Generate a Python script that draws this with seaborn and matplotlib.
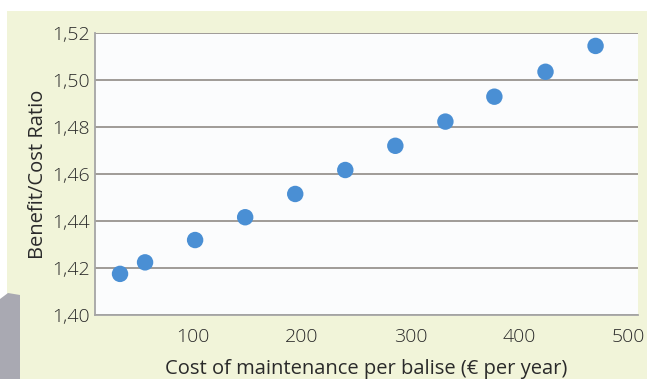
import matplotlib
matplotlib.use("Agg")
import matplotlib.pyplot as plt
import seaborn as sns
import pandas as pd
from matplotlib.patches import Polygon, Rectangle

# datos
cost = [33, 56, 102, 148, 194, 240, 286, 332, 377, 424, 470]
ratio = [1.4175, 1.4224, 1.4319, 1.4416, 1.4515, 1.4617, 1.4720, 1.4823, 1.4929, 1.5035, 1.5145]

x_ticks = [100, 200, 300, 400, 500]
y_ticks = [1.40, 1.42, 1.44, 1.46, 1.48, 1.50, 1.52]
y_tick_labels = ["1,40", "1,42", "1,44", "1,46", "1,48", "1,50", "1,52"]

df = pd.DataFrame({"cost": cost, "ratio": ratio})

sns.set_theme(style="white")
plt.rcParams["font.family"] = ["Open Sans", "DejaVu Sans"]
plt.rcParams["font.weight"] = "light"

fig = plt.figure(figsize=(6.47, 3.79), dpi=100)
fig.patch.set_facecolor("white")

# fondo amarillo claro del recuadro
fig.patches.append(Rectangle((7 / 647, 0), 1, 1 - 11 / 379, transform=fig.transFigure,
                             facecolor="#f1f4d9", edgecolor="none", zorder=-2))
# mancha gris abajo a la izquierda
fig.patches.append(Polygon([(0, 0), (0, 80 / 379), (8 / 647, 86 / 379), (20 / 647, 84 / 379),
                            (20 / 647, 0)], closed=True, transform=fig.transFigure,
                           facecolor="#a9a9b2", edgecolor="none", zorder=-1))

ax = fig.add_axes([95 / 647, 1 - 315 / 379, (638 - 95) / 647, (315 - 33) / 379])
ax.set_zorder(2)
ax.set_facecolor("#fbfcfd")

sns.scatterplot(data=df, x="cost", y="ratio", ax=ax, s=140, color="#4a8fd4",
                edgecolor="none", zorder=3)

ax.set_xlim(10, 509)
ax.set_ylim(1.40, 1.52)
ax.set_xticks(x_ticks)
ax.set_yticks(y_ticks)
ax.set_yticklabels(y_tick_labels)
ax.yaxis.grid(True, color="#8f8a86", linewidth=1.2)
ax.set_axisbelow(True)

for side in ["top", "right"]:
    ax.spines[side].set_visible(False)
for side in ["left", "bottom"]:
    ax.spines[side].set_color("#a5a5a5")
    ax.spines[side].set_linewidth(1.3)

ax.tick_params(axis="both", length=0, labelsize=14, colors="#2a2a2a")
ax.tick_params(axis="x", pad=9)
ax.tick_params(axis="y", pad=4)

ax.set_xlabel("Cost of maintenance per balise (€ per year)", fontsize=14.5, color="#2a2a2a", labelpad=10)
ax.set_ylabel("Benefit/Cost Ratio", fontsize=14.5, color="#2a2a2a", labelpad=3)

fig.savefig("out.png", dpi=100)
